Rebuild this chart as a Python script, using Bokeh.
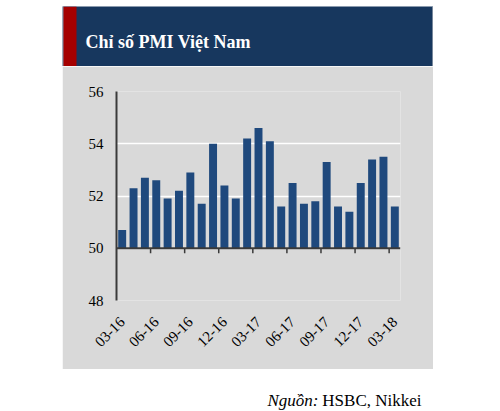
import math
from bokeh.plotting import figure
from bokeh.models import Range1d, FixedTicker, Span
from bokeh.core.properties import value
from bokeh.embed import file_html
from bokeh.resources import INLINE

# ---- data ----
months = ["03-16", "04-16", "05-16", "06-16", "07-16", "08-16", "09-16", "10-16",
          "11-16", "12-16", "01-17", "02-17", "03-17", "04-17", "05-17", "06-17",
          "07-17", "08-17", "09-17", "10-17", "11-17", "12-17", "01-18", "02-18",
          "03-18"]
pmi = [50.7, 52.3, 52.7, 52.6, 51.9, 52.2, 52.9, 51.7, 54.0, 52.4, 51.9, 54.2,
       54.6, 54.1, 51.6, 52.5, 51.7, 51.8, 53.3, 51.6, 51.4, 52.5, 53.4, 53.5, 51.6]
y_ticks = [48, 50, 52, 54, 56]
base_value = 50
title_text = "Chỉ số PMI Việt Nam"
source_label = "Nguồn:"
source_text = "HSBC, Nikkei"

# ---- style ----
GRAY = "#d9d9d9"
NAVY = "#17375e"
RED = "#a50000"
BAR = "#1f497d"
AX = "#3a3a3a"
FONT = "Liberation Serif"
PANEL_W = 371

idx = list(range(len(months)))
label_idx = idx[::3]
bounds = [i + 0.5 for i in range(2, len(months) - 1, 3)]


def blank(fig):
    fig.outline_line_color = None
    fig.grid.visible = False
    fig.min_border = 0


# ---- title bar ----
tf = figure(width=PANEL_W, height=60, output_backend="svg", toolbar_location=None,
            x_range=Range1d(0, PANEL_W), y_range=Range1d(0, 60),
            x_axis_type=None, y_axis_type=None)
blank(tf)
tf.background_fill_color = NAVY
tf.border_fill_color = NAVY
tf.quad(left=[0, 1, PANEL_W - 1], right=[1, 14, PANEL_W], bottom=0, top=60,
        fill_color=[GRAY, RED, GRAY], line_color=None)
tf.text(x=[23], y=[24.5], text=[title_text], text_font=value(FONT),
        text_font_size="18px", text_font_style="bold", text_color="white",
        text_baseline="alphabetic", text_align="left")
tf.margin = (6, 0, 0, 62)

# ---- chart ----
p = figure(width=PANEL_W, height=303, output_backend="svg", toolbar_location=None,
           x_range=Range1d(-0.5, len(months) - 0.5), y_range=Range1d(48, 56),
           min_border_left=54, min_border_right=33, min_border_top=25,
           min_border_bottom=69)
p.outline_line_color = None
p.background_fill_color = GRAY
p.border_fill_color = GRAY
p.margin = (0, 0, 0, 62)

p.vbar(x=idx, top=pmi, bottom=base_value, width=0.7, fill_color=BAR, line_color=None)

p.xgrid.visible = False
p.ygrid.ticker = FixedTicker(ticks=y_ticks)
p.ygrid.grid_line_color = "white"
p.ygrid.grid_line_width = 1.5

p.yaxis.ticker = FixedTicker(ticks=y_ticks)
p.yaxis.major_tick_out = 0
p.yaxis.major_tick_in = 0
p.yaxis.minor_tick_line_color = None
p.yaxis.axis_line_color = AX
p.yaxis.axis_line_width = 2
p.yaxis.major_label_standoff = 13
p.yaxis.major_label_text_font = FONT
p.yaxis.major_label_text_font_size = "15px"
p.yaxis.major_label_text_color = "black"

xa = p.xaxis[0]
xa.ticker = FixedTicker(ticks=label_idx)
xa.major_label_overrides = {i: months[i] for i in label_idx}
xa.major_label_orientation = math.pi / 4
xa.axis_line_color = None
xa.major_tick_line_color = None
xa.minor_tick_line_color = None
xa.major_label_standoff = 13
xa.major_label_text_font = FONT
xa.major_label_text_font_size = "15px"
xa.major_label_text_color = "black"

# category axis line at the base value, with tick marks at quarter boundaries
p.add_layout(Span(location=base_value, dimension="width", line_color=AX, line_width=2))
p.segment(x0=bounds, y0=base_value, x1=bounds, y1=base_value - 0.19,
          line_color=AX, line_width=1.5)

# ---- source ----
sf = figure(width=PANEL_W, height=42, output_backend="svg", toolbar_location=None,
            x_range=Range1d(0, PANEL_W), y_range=Range1d(0, 42),
            x_axis_type=None, y_axis_type=None)
blank(sf)
sf.background_fill_color = "white"
sf.border_fill_color = "white"
sf.text(x=[359], y=[11], text=[source_text], text_font=value(FONT),
        text_font_size="17px", text_color="black",
        text_baseline="alphabetic", text_align="right")
sf.text(x=[256], y=[11], text=[source_label], text_font=value(FONT),
        text_font_size="17px", text_font_style="italic", text_color="black",
        text_baseline="alphabetic", text_align="right")
sf.margin = (0, 0, 0, 62)

open("out.html", "w").write(file_html([tf, p, sf], INLINE))
